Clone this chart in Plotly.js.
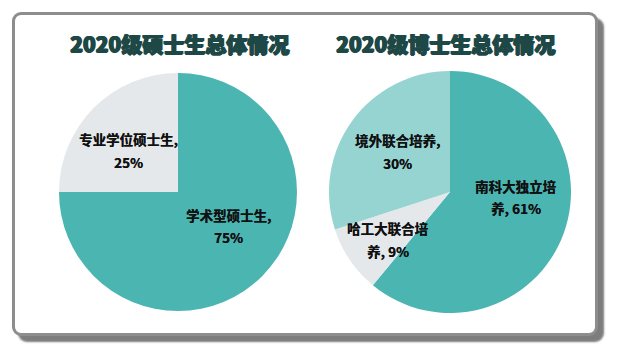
<!DOCTYPE html>
<html>
<head>
<meta charset="utf-8">
<script src="https://cdn.plot.ly/plotly-3.0.1.min.js"></script>
<style>
  html, body { margin: 0; padding: 0; background: #ffffff; }
  #wrap { position: relative; width: 618px; height: 357px; }
  #frame {
    position: absolute; left: 12px; top: 12px; width: 580px; height: 318px;
    border: 3.5px solid #8d8d8d; border-radius: 9px;
    box-shadow: 6px 6px 2px #7d7d7d;
    background: #ffffff;
  }
  #chart { position: absolute; left: 0; top: 0; width: 618px; height: 357px; }
</style>
</head>
<body>
<div id="wrap">
  <div id="frame"></div>
  <div id="chart"></div>
</div>
<script>
// ---- data ----
const masterTitle = "2020级硕士生总体情况";
const masterLabels = ["学术型硕士生", "专业学位硕士生"];
const masterValues = [75, 25];

const phdTitle = "2020级博士生总体情况";
const phdLabels = ["南科大独立培养", "哈工大联合培养", "境外联合培养"];
const phdValues = [61, 9, 30];

// ---- styles ----
const masterColors = ["#4bb5b2", "#e4e8eb"];
const phdColors = ["#4bb5b2", "#e4e8eb", "#95d4d1"];
const labelFont = { family: "Noto Sans CJK SC, sans-serif", size: 13.5, color: "#111111", weight: 700, shadow: "0.3px 0 0 #111111" };
const titleFont = { family: "Noto Sans CJK SC, sans-serif", size: 21, color: "#1d4845", weight: 900, shadow: "1px 0 0 #1d4845, -0.6px 0 0 #1d4845, 0 0.5px 0 #1d4845" };

// where to break each label text into two lines (characters on line 1), and label anchor positions (px)
const masterBreak = [7, 8];
const masterPos = [[228, 215, 237], [128, 139, 162]];
const phdBreak = [6, 6, 7];
const phdPos = [[516, 186, 208], [388, 228, 251], [397, 140, 163]];

const W = 618, H = 357;
function labelAnns(labels, values, breaks, pos) {
  const out = [];
  labels.forEach((lab, i) => {
    const full = lab + ", " + values[i] + "%";
    let l1 = full.slice(0, breaks[i]);
    let l2 = full.slice(breaks[i]).trim();
    if (l2.startsWith(",")) { l1 = l1 + ","; l2 = l2.slice(1).trim(); }
    [[l1, pos[i][1]], [l2, pos[i][2]]].forEach(([t, py]) => {
      out.push({
        xref: "paper", yref: "paper", x: pos[i][0] / W, y: 1 - py / H,
        xanchor: "center", yanchor: "middle", showarrow: false,
        text: t, font: labelFont
      });
    });
  });
  return out;
}

const data = [
  {
    type: "pie", labels: masterLabels, values: masterValues, sort: false,
    direction: "clockwise", rotation: 0,
    marker: { colors: masterColors, line: { width: 0 } },
    textinfo: "none", hoverinfo: "label+percent",
    domain: { x: [59 / W, 297 / W], y: [(165 - 119) / H, (165 + 119) / H] }
  },
  {
    type: "pie", labels: phdLabels, values: phdValues, sort: false,
    direction: "clockwise", rotation: 0,
    marker: { colors: phdColors, line: { width: 0 } },
    textinfo: "none", hoverinfo: "label+percent",
    domain: { x: [329 / W, 571 / W], y: [(165 - 121) / H, (165 + 121) / H] }
  }
];

const annotations = [
  { xref: "paper", yref: "paper", x: 179 / W, y: 1 - 43 / H, xanchor: "center", yanchor: "middle",
    showarrow: false, text: masterTitle, font: titleFont },
  { xref: "paper", yref: "paper", x: 445 / W, y: 1 - 43 / H, xanchor: "center", yanchor: "middle",
    showarrow: false, text: phdTitle, font: titleFont }
].concat(labelAnns(masterLabels, masterValues, masterBreak, masterPos))
 .concat(labelAnns(phdLabels, phdValues, phdBreak, phdPos));

const layout = {
  width: W, height: H,
  margin: { l: 0, r: 0, t: 0, b: 0 },
  paper_bgcolor: "rgba(0,0,0,0)", plot_bgcolor: "rgba(0,0,0,0)",
  showlegend: false,
  annotations: annotations
};

Plotly.newPlot("chart", data, layout, { displayModeBar: false, staticPlot: true });
</script>
</body>
</html>
